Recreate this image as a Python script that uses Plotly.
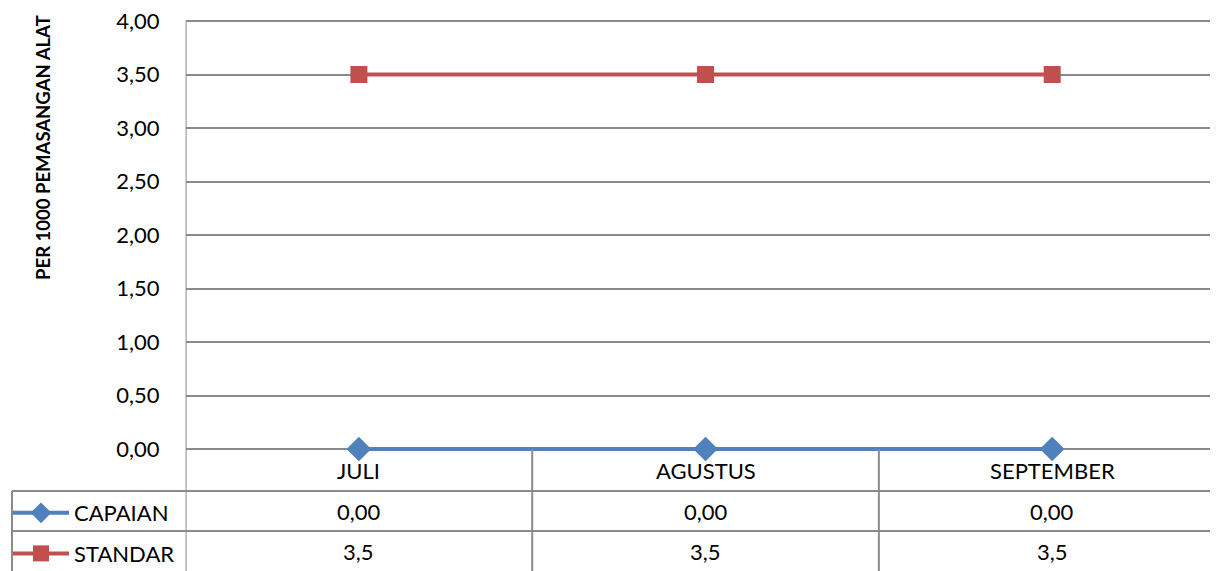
import plotly.graph_objects as go

# data
months = ['JULI', 'AGUSTUS', 'SEPTEMBER']
capaian = [0.00, 0.00, 0.00]
standar = [3.5, 3.5, 3.5]
series_names = ['CAPAIAN', 'STANDAR']
y_ticks = [0, 0.5, 1.0, 1.5, 2.0, 2.5, 3.0, 3.5, 4.0]
y_title = 'PER 1000 PEMASANGAN ALAT'

OFF = 8  # page body margin
W, H = 1218, 571
FONT = 'Lato'
GRID = '#8a8a8a'
BLUE = '#4F81BD'
RED = '#C0504D'


def py(p):
    # screen pixel row -> paper y
    return 1 - (p - OFF) / H


def px(p):
    # screen pixel column -> paper x
    return (p - OFF) / W


# y axis: 0 at screen row 449, 4 at row 21
y_top, y_zero = 21, 449
unit = (y_zero - y_top) / 4.0
y_low, y_high = -0.06, 4.02

fig = go.Figure()

fig.add_trace(go.Scatter(
    x=list(range(len(months))), y=capaian, name=series_names[0],
    mode='lines+markers', legendgroup='a', cliponaxis=False,
    line=dict(color=BLUE, width=4),
    marker=dict(symbol='diamond', size=19, color=BLUE)))

fig.add_trace(go.Scatter(
    x=list(range(len(months))), y=standar, name=series_names[1],
    mode='lines+markers', legendgroup='b', cliponaxis=False,
    line=dict(color=RED, width=4),
    marker=dict(symbol='square', size=17, color=RED)))

# table lines
shapes = []
for i in range(1, len(months)):
    shapes.append(dict(type='line', xref='x', yref='paper',
                       x0=i - 0.5, x1=i - 0.5, y0=0, y1=py(y_zero),
                       line=dict(color=GRID, width=2)))
shapes.append(dict(type='line', xref='x', yref='paper',
                   x0=-0.5, x1=-0.5, y0=0, y1=py(y_top),
                   line=dict(color=GRID, width=2)))
for r in (491, 531):
    shapes.append(dict(type='line', xref='paper', yref='paper',
                       x0=px(9), x1=1, y0=py(r), y1=py(r),
                       line=dict(color=GRID, width=2)))
shapes.append(dict(type='line', xref='paper', yref='paper',
                   x0=px(9), x1=px(9), y0=0, y1=py(491),
                   line=dict(color=GRID, width=2)))

tfont = dict(size=22, color='#000', family=FONT)
annotations = []
for i, m in enumerate(months):
    annotations.append(dict(x=i, y=py(470), xref='x', yref='paper',
                            xanchor='center', yanchor='middle',
                            text=m, showarrow=False, font=tfont))
    annotations.append(dict(x=i, y=py(511), xref='x', yref='paper',
                            xanchor='center', yanchor='middle',
                            text=f'{capaian[i]:.2f}'.replace('.', ','),
                            showarrow=False, font=tfont))
    annotations.append(dict(x=i, y=py(551), xref='x', yref='paper',
                            xanchor='center', yanchor='middle',
                            text=str(standar[i]).replace('.', ','),
                            showarrow=False, font=tfont))

annotations.append(dict(x=px(40), y=py(147), xref='paper', yref='paper',
                        xanchor='center', yanchor='middle',
                        text='<b>' + y_title + '</b>', textangle=-90,
                        showarrow=False, font=dict(size=18.5, color='#000')))

x0_px, x_step = 183, 347.5
x_hi = -0.5 + (W + OFF - x0_px) / x_step

fig.update_layout(
    width=W, height=H,
    margin=dict(l=0, r=0, t=0, b=0),
    paper_bgcolor='white', plot_bgcolor='white',
    separators=',.',
    font=dict(family=FONT, size=22, color='#000'),
    showlegend=True,
    legend=dict(x=px(5), y=py(492), xanchor='left', yanchor='top',
                bgcolor='rgba(0,0,0,0)', font=dict(size=22),
                itemwidth=56, tracegroupgap=9, traceorder='grouped'),
    xaxis=dict(domain=[px(x0_px), 1], range=[-0.5, x_hi],
               showticklabels=False, showgrid=False, zeroline=False,
               fixedrange=True),
    yaxis=dict(domain=[py(y_zero - y_low * unit), py(y_top - (y_high - 4) * unit)],
               range=[y_low, y_high], tickmode='array', tickvals=y_ticks,
               tickformat='.2f', showgrid=True, gridcolor=GRID, gridwidth=1.5,
               zeroline=False, showline=False, ticklabelstandoff=25,
               ticklabeloverflow='allow',
               tickfont=dict(size=22), automargin=False),
    shapes=shapes,
    annotations=annotations,
)

fig.write_html('out.html')
